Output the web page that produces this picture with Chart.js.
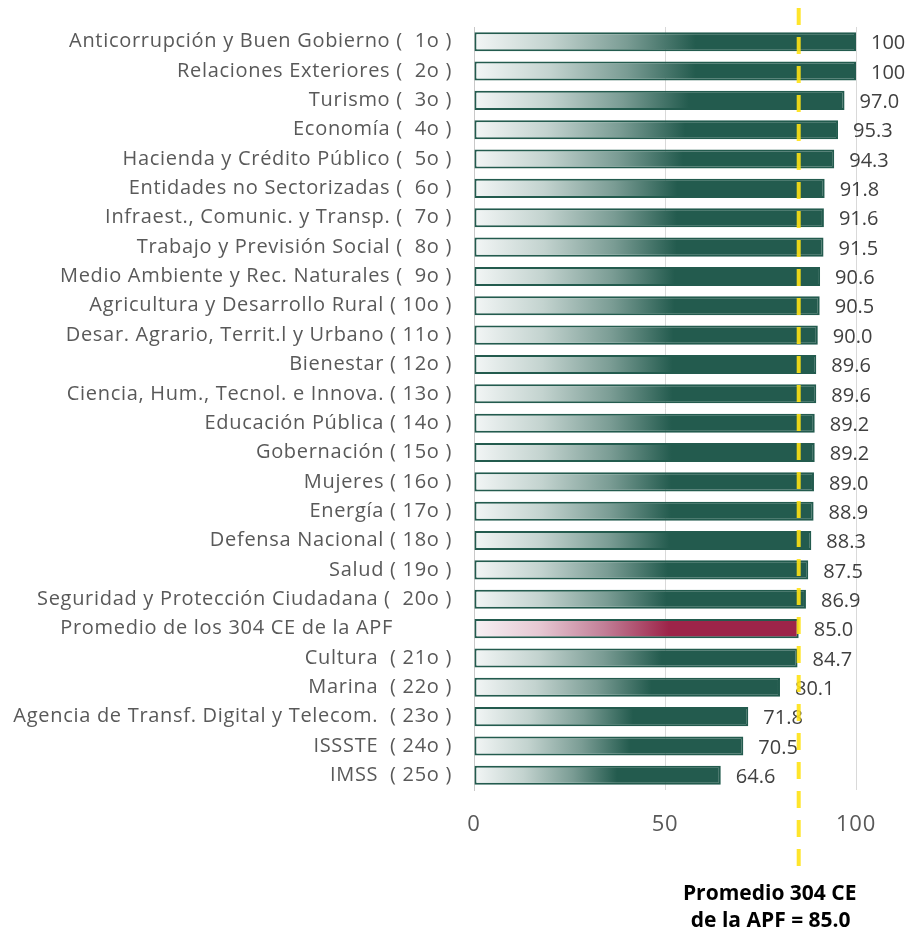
<!DOCTYPE html>
<html lang="es">
<head>
  <meta charset="UTF-8">
  <title>Promedio por dependencia</title>
  <style>
    body { margin: 0; background: #fff; }
    #wrap { width: 912px; height: 932px; }
  </style>
</head>
<body>
  <div id="wrap"><canvas id="chart-canvas" width="912" height="932"></canvas></div>

  <script src="https://cdn.jsdelivr.net/npm/chart.js@4.4.8/dist/chart.umd.min.js"></script>
  <script>
    // categories (top to bottom)
    const categories = [
      "Anticorrupción y Buen Gobierno (  1o )",
      "Relaciones Exteriores (  2o )",
      "Turismo (  3o )",
      "Economía (  4o )",
      "Hacienda y Crédito Público (  5o )",
      "Entidades no Sectorizadas (  6o )",
      "Infraest., Comunic. y Transp. (  7o )",
      "Trabajo y Previsión Social (  8o )",
      "Medio Ambiente y Rec. Naturales (  9o )",
      "Agricultura y Desarrollo Rural ( 10o )",
      "Desar. Agrario, Territ.l y Urbano ( 11o )",
      "Bienestar ( 12o )",
      "Ciencia, Hum., Tecnol. e Innova. ( 13o )",
      "Educación Pública ( 14o )",
      "Gobernación ( 15o )",
      "Mujeres ( 16o )",
      "Energía ( 17o )",
      "Defensa Nacional ( 18o )",
      "Salud ( 19o )",
      "Seguridad y Protección Ciudadana (  20o )",
      "Promedio de los 304 CE de la APF          ",
      "Cultura  ( 21o )",
      "Marina  ( 22o )",
      "Agencia de Transf. Digital y Telecom.  ( 23o )",
      "ISSSTE  ( 24o )",
      "IMSS  ( 25o )"
    ];
    const values = [100, 100, 97.0, 95.3, 94.3, 91.8, 91.6, 91.5, 90.6, 90.5, 90.0, 89.6, 89.6,
                    89.2, 89.2, 89.0, 88.9, 88.3, 87.5, 86.9, 85.0, 84.7, 80.1, 71.8, 70.5, 64.6];
    const averageIndex = 20;      // the "Promedio" bar
    const promedio = 85.0;        // dashed reference line
    const xTicks = [0, 50, 100];
    const noteLines = ["Promedio 304 CE", "de la APF = " + promedio.toFixed(1)];

    const GREEN = "#235b4e";
    const GUINDA = "#9d2449";
    const FONT = "'Open Sans', 'Noto Sans', sans-serif";

    // gradient per bar, from the zero line to the bar end
    function barFill(ctx) {
      const chart = ctx.chart;
      if (!chart.chartArea) return GREEN;
      const x = chart.scales.x;
      const x0 = x.getPixelForValue(0);
      const x1 = x.getPixelForValue(values[ctx.dataIndex]);
      const g = chart.ctx.createLinearGradient(x0, 0, x1, 0);
      if (ctx.dataIndex === averageIndex) {
        g.addColorStop(0, "#f7f2f5");
        g.addColorStop(0.2, "#e6c8d3");
        g.addColorStop(0.4, "#c27f97");
        g.addColorStop(0.6, GUINDA);
        g.addColorStop(1, GUINDA);
      } else {
        g.addColorStop(0, "#f3f6f6");
        g.addColorStop(0.2, "#c3d3cf");
        g.addColorStop(0.4, "#7a9c94");
        g.addColorStop(0.58, GREEN);
        g.addColorStop(1, GREEN);
      }
      return g;
    }

    // axis labels are a bit wider in the original, add some letter spacing
    const spacing = {
      id: "spacing",
      beforeDraw(chart) { chart.ctx.letterSpacing = "0.7px"; },
      beforeDatasetsDraw(chart) { chart.ctx.letterSpacing = "0px"; }
    };

    // value labels, the yellow dashed line and the note below
    const extras = {
      id: "extras",
      afterDatasetsDraw(chart) {
        const c = chart.ctx;
        const meta = chart.getDatasetMeta(0);
        c.save();
        c.font = "20px " + FONT;
        c.fillStyle = "#404040";
        c.textAlign = "left";
        c.textBaseline = "middle";
        meta.data.forEach((bar, i) => {
          const v = values[i];
          const txt = v === 100 ? "100" : v.toFixed(1);
          c.fillText(txt, bar.x + 15, bar.y + 2);
        });

        const px = chart.scales.x.getPixelForValue(promedio);
        c.strokeStyle = "rgba(255, 226, 20, 0.9)";
        c.lineWidth = 4;
        c.setLineDash([17, 12]);
        c.beginPath();
        c.moveTo(px, 8);
        c.lineTo(px, 866);
        c.stroke();
        c.setLineDash([]);

        c.font = "bold 21px " + FONT;
        c.fillStyle = "#000";
        c.textAlign = "center";
        c.fillText(noteLines[0], px - 29, 894);
        c.fillText(noteLines[1], px - 28, 921);
        c.restore();
      }
    };

    const context = document.getElementById("chart-canvas").getContext("2d");
    const chart = new Chart(context, {
      type: "bar",
      data: {
        labels: categories,
        datasets: [{
          data: values,
          backgroundColor: barFill,
          borderColor: GREEN,
          borderWidth: 2,
          borderSkipped: false,
          categoryPercentage: 1,
          barPercentage: 0.65
        }]
      },
      options: {
        indexAxis: "y",
        responsive: false,
        animation: false,
        layout: { padding: { top: 27, right: 56, left: 0, bottom: 0 } },
        plugins: {
          legend: { display: false },
          tooltip: { enabled: false }
        },
        scales: {
          x: {
            min: 0,
            max: 100,
            afterBuildTicks(s) { s.ticks = xTicks.map(v => ({ value: v })); },
            afterFit(s) { s.height = 142; },
            grid: { color: "#d9d9d9", drawTicks: false },
            border: { display: false },
            ticks: { padding: 22, color: "#595959", font: { family: FONT, size: 22 } }
          },
          y: {
            afterFit(s) { s.width = 474; s.paddingTop = 0; s.paddingBottom = 0; },
            grid: { display: false, drawTicks: false },
            border: { display: true, color: "#c8c8c8", width: 1 },
            ticks: { padding: 22, color: "#595959", font: { family: FONT, size: 20 }, autoSkip: false }
          }
        }
      },
      plugins: [spacing, extras]
    });
  </script>
</body>
</html>
